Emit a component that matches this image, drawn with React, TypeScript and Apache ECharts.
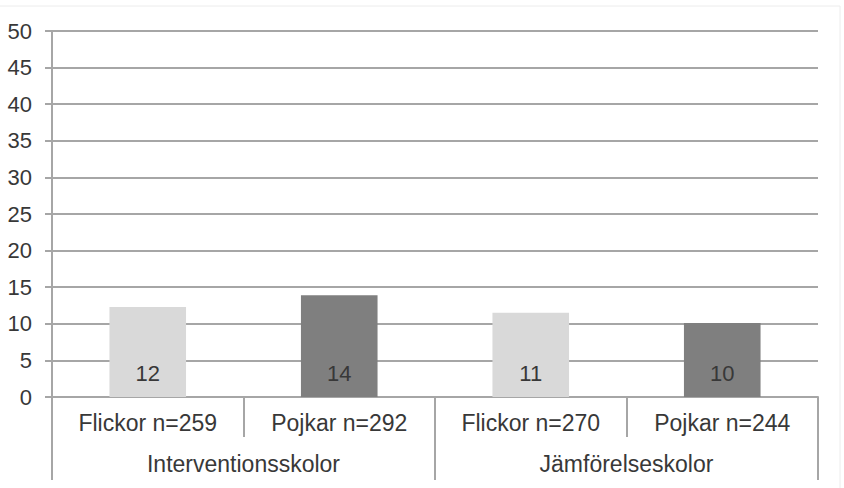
import React, { useEffect, useRef } from "react";
import * as echarts from "echarts";

const categories = ["Flickor n=259", "Pojkar n=292", "Flickor n=270", "Pojkar n=244"];
const groups = ["Interventionsskolor", "Jämförelseskolor"];
const values = [12.3, 13.9, 11.5, 10.1];
const valueLabels = ["12", "14", "11", "10"];
const barColors = ["#d9d9d9", "#7f7f7f", "#d9d9d9", "#7f7f7f"];

const FONT = "'Liberation Sans', Arial, sans-serif";
const TEXT = "#383838";
const LINE = "#a6a6a6";

export default function App() {
  const ref = useRef<HTMLDivElement>(null);
  useEffect(() => {
    document.body.style.margin = "0";
    const chart = echarts.init(ref.current!, undefined, { renderer: "svg" });
    chart.setOption({
      animation: false,
      backgroundColor: "#ffffff",
      textStyle: { fontFamily: FONT },
      graphic: [
        {
          type: "rect",
          shape: { x: -2, y: 6, width: 842, height: 490 },
          style: { fill: "none", stroke: "#ececec", lineWidth: 1 },
          silent: true,
          z: -1,
        },
      ],
      grid: { left: 52, right: 26, top: 31, bottom: 91 },
      xAxis: [
        {
          type: "category",
          data: categories,
          position: "bottom",
          axisLine: { show: true, lineStyle: { color: LINE, width: 2 } },
          axisTick: { show: true, length: 40, interval: 0, lineStyle: { color: LINE, width: 2 } },
          axisLabel: { interval: 0, margin: 14, fontSize: 23, color: TEXT, fontFamily: FONT },
        },
        {
          type: "category",
          data: groups,
          position: "bottom",
          axisLine: { show: false },
          axisTick: { show: true, length: 83, interval: 0, lineStyle: { color: LINE, width: 2 } },
          axisLabel: { interval: 0, margin: 55, fontSize: 23, color: TEXT, fontFamily: FONT },
        },
      ],
      yAxis: {
        type: "value",
        min: 0,
        max: 50,
        interval: 5,
        axisLine: { show: true, lineStyle: { color: LINE, width: 2 } },
        axisTick: { show: true, length: 7, lineStyle: { color: LINE, width: 2 } },
        axisLabel: { margin: 20, fontSize: 22, color: TEXT, fontFamily: FONT },
        splitLine: { show: true, lineStyle: { color: LINE, width: 2 } },
      },
      series: [
        {
          type: "bar",
          xAxisIndex: 0,
          barCategoryGap: "60%",
          data: values.map((v, i) => ({ value: v, itemStyle: { color: barColors[i] } })),
          label: {
            show: true,
            position: "insideBottom",
            distance: 13,
            fontSize: 22,
            color: TEXT,
            fontFamily: FONT,
            formatter: (p: any) => valueLabels[p.dataIndex],
          },
        },
      ],
    });
    return () => chart.dispose();
  }, []);
  return <div ref={ref} style={{ width: 844, height: 488 }} />;
}
